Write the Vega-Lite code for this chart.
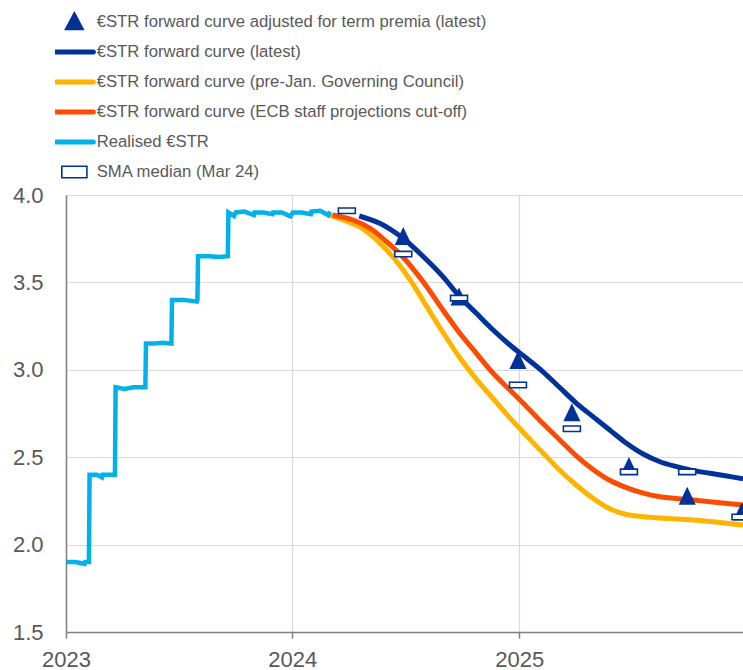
{
  "$schema": "https://vega.github.io/schema/vega-lite/v6.json",
  "width": 677,
  "height": 437,
  "autosize": {"type": "none"},
  "padding": {"left": 66, "top": 195, "right": 0, "bottom": 38},
  "background": "white",
  "config": {"view": {"stroke": null}, "font": "Liberation Sans"},
  "datasets": {
    "lines": [
      {"series": "€STR forward curve (pre-Jan. Governing Council)", "date": "2024-02-27", "value": 3.886},
      {"series": "€STR forward curve (pre-Jan. Governing Council)", "date": "2024-03-25", "value": 3.855},
      {"series": "€STR forward curve (pre-Jan. Governing Council)", "date": "2024-04-18", "value": 3.819},
      {"series": "€STR forward curve (pre-Jan. Governing Council)", "date": "2024-05-16", "value": 3.743},
      {"series": "€STR forward curve (pre-Jan. Governing Council)", "date": "2024-06-11", "value": 3.647},
      {"series": "€STR forward curve (pre-Jan. Governing Council)", "date": "2024-07-09", "value": 3.514},
      {"series": "€STR forward curve (pre-Jan. Governing Council)", "date": "2024-08-05", "value": 3.361},
      {"series": "€STR forward curve (pre-Jan. Governing Council)", "date": "2024-09-01", "value": 3.209},
      {"series": "€STR forward curve (pre-Jan. Governing Council)", "date": "2024-09-27", "value": 3.07},
      {"series": "€STR forward curve (pre-Jan. Governing Council)", "date": "2024-10-24", "value": 2.945},
      {"series": "€STR forward curve (pre-Jan. Governing Council)", "date": "2024-11-20", "value": 2.835},
      {"series": "€STR forward curve (pre-Jan. Governing Council)", "date": "2024-12-17", "value": 2.725},
      {"series": "€STR forward curve (pre-Jan. Governing Council)", "date": "2025-01-13", "value": 2.622},
      {"series": "€STR forward curve (pre-Jan. Governing Council)", "date": "2025-02-09", "value": 2.522},
      {"series": "€STR forward curve (pre-Jan. Governing Council)", "date": "2025-03-07", "value": 2.427},
      {"series": "€STR forward curve (pre-Jan. Governing Council)", "date": "2025-04-03", "value": 2.341},
      {"series": "€STR forward curve (pre-Jan. Governing Council)", "date": "2025-04-30", "value": 2.265},
      {"series": "€STR forward curve (pre-Jan. Governing Council)", "date": "2025-05-27", "value": 2.205},
      {"series": "€STR forward curve (pre-Jan. Governing Council)", "date": "2025-06-23", "value": 2.172},
      {"series": "€STR forward curve (pre-Jan. Governing Council)", "date": "2025-08-16", "value": 2.152},
      {"series": "€STR forward curve (pre-Jan. Governing Council)", "date": "2025-10-09", "value": 2.141},
      {"series": "€STR forward curve (pre-Jan. Governing Council)", "date": "2025-12-28", "value": 2.112},

      {"series": "€STR forward curve (ECB staff projections cut-off)", "date": "2024-03-06", "value": 3.886},
      {"series": "€STR forward curve (ECB staff projections cut-off)", "date": "2024-04-08", "value": 3.857},
      {"series": "€STR forward curve (ECB staff projections cut-off)", "date": "2024-05-05", "value": 3.81},
      {"series": "€STR forward curve (ECB staff projections cut-off)", "date": "2024-06-01", "value": 3.733},
      {"series": "€STR forward curve (ECB staff projections cut-off)", "date": "2024-06-27", "value": 3.647},
      {"series": "€STR forward curve (ECB staff projections cut-off)", "date": "2024-07-20", "value": 3.55},
      {"series": "€STR forward curve (ECB staff projections cut-off)", "date": "2024-08-05", "value": 3.475},
      {"series": "€STR forward curve (ECB staff projections cut-off)", "date": "2024-08-31", "value": 3.342},
      {"series": "€STR forward curve (ECB staff projections cut-off)", "date": "2024-09-27", "value": 3.21},
      {"series": "€STR forward curve (ECB staff projections cut-off)", "date": "2024-10-24", "value": 3.094},
      {"series": "€STR forward curve (ECB staff projections cut-off)", "date": "2024-11-20", "value": 2.98},
      {"series": "€STR forward curve (ECB staff projections cut-off)", "date": "2024-12-17", "value": 2.884},
      {"series": "€STR forward curve (ECB staff projections cut-off)", "date": "2025-01-13", "value": 2.789},
      {"series": "€STR forward curve (ECB staff projections cut-off)", "date": "2025-02-08", "value": 2.694},
      {"series": "€STR forward curve (ECB staff projections cut-off)", "date": "2025-03-07", "value": 2.6},
      {"series": "€STR forward curve (ECB staff projections cut-off)", "date": "2025-04-03", "value": 2.508},
      {"series": "€STR forward curve (ECB staff projections cut-off)", "date": "2025-04-30", "value": 2.43},
      {"series": "€STR forward curve (ECB staff projections cut-off)", "date": "2025-05-27", "value": 2.368},
      {"series": "€STR forward curve (ECB staff projections cut-off)", "date": "2025-06-23", "value": 2.326},
      {"series": "€STR forward curve (ECB staff projections cut-off)", "date": "2025-07-20", "value": 2.294},
      {"series": "€STR forward curve (ECB staff projections cut-off)", "date": "2025-08-16", "value": 2.274},
      {"series": "€STR forward curve (ECB staff projections cut-off)", "date": "2025-10-09", "value": 2.255},
      {"series": "€STR forward curve (ECB staff projections cut-off)", "date": "2025-12-28", "value": 2.227},

      {"series": "€STR forward curve (latest)", "date": "2024-04-18", "value": 3.88},
      {"series": "€STR forward curve (latest)", "date": "2024-05-21", "value": 3.838},
      {"series": "€STR forward curve (latest)", "date": "2024-06-27", "value": 3.754},
      {"series": "€STR forward curve (latest)", "date": "2024-08-05", "value": 3.628},
      {"series": "€STR forward curve (latest)", "date": "2024-08-31", "value": 3.533},
      {"series": "€STR forward curve (latest)", "date": "2024-09-27", "value": 3.418},
      {"series": "€STR forward curve (latest)", "date": "2024-10-24", "value": 3.323},
      {"series": "€STR forward curve (latest)", "date": "2024-11-20", "value": 3.228},
      {"series": "€STR forward curve (latest)", "date": "2024-12-17", "value": 3.142},
      {"series": "€STR forward curve (latest)", "date": "2025-01-13", "value": 3.066},
      {"series": "€STR forward curve (latest)", "date": "2025-02-08", "value": 2.99},
      {"series": "€STR forward curve (latest)", "date": "2025-03-07", "value": 2.9},
      {"series": "€STR forward curve (latest)", "date": "2025-04-03", "value": 2.81},
      {"series": "€STR forward curve (latest)", "date": "2025-04-30", "value": 2.732},
      {"series": "€STR forward curve (latest)", "date": "2025-05-27", "value": 2.656},
      {"series": "€STR forward curve (latest)", "date": "2025-06-23", "value": 2.58},
      {"series": "€STR forward curve (latest)", "date": "2025-07-20", "value": 2.518},
      {"series": "€STR forward curve (latest)", "date": "2025-08-16", "value": 2.474},
      {"series": "€STR forward curve (latest)", "date": "2025-09-12", "value": 2.446},
      {"series": "€STR forward curve (latest)", "date": "2025-10-09", "value": 2.423},
      {"series": "€STR forward curve (latest)", "date": "2025-11-05", "value": 2.408},
      {"series": "€STR forward curve (latest)", "date": "2025-12-02", "value": 2.392},
      {"series": "€STR forward curve (latest)", "date": "2025-12-28", "value": 2.377},

      {"series": "Realised €STR", "date": "2023-01-02", "value": 1.90},
      {"series": "Realised €STR", "date": "2023-01-16", "value": 1.90},
      {"series": "Realised €STR", "date": "2023-01-31", "value": 1.89},
      {"series": "Realised €STR", "date": "2023-02-01", "value": 1.90},
      {"series": "Realised €STR", "date": "2023-02-07", "value": 1.90},
      {"series": "Realised €STR", "date": "2023-02-08", "value": 2.40},
      {"series": "Realised €STR", "date": "2023-02-20", "value": 2.40},
      {"series": "Realised €STR", "date": "2023-02-28", "value": 2.385},
      {"series": "Realised €STR", "date": "2023-03-01", "value": 2.40},
      {"series": "Realised €STR", "date": "2023-03-21", "value": 2.40},
      {"series": "Realised €STR", "date": "2023-03-22", "value": 2.90},
      {"series": "Realised €STR", "date": "2023-04-05", "value": 2.89},
      {"series": "Realised €STR", "date": "2023-04-20", "value": 2.90},
      {"series": "Realised €STR", "date": "2023-05-09", "value": 2.90},
      {"series": "Realised €STR", "date": "2023-05-10", "value": 3.15},
      {"series": "Realised €STR", "date": "2023-05-25", "value": 3.15},
      {"series": "Realised €STR", "date": "2023-06-05", "value": 3.155},
      {"series": "Realised €STR", "date": "2023-06-20", "value": 3.15},
      {"series": "Realised €STR", "date": "2023-06-21", "value": 3.40},
      {"series": "Realised €STR", "date": "2023-07-10", "value": 3.40},
      {"series": "Realised €STR", "date": "2023-07-31", "value": 3.39},
      {"series": "Realised €STR", "date": "2023-08-01", "value": 3.40},
      {"series": "Realised €STR", "date": "2023-08-02", "value": 3.65},
      {"series": "Realised €STR", "date": "2023-08-20", "value": 3.65},
      {"series": "Realised €STR", "date": "2023-09-05", "value": 3.645},
      {"series": "Realised €STR", "date": "2023-09-19", "value": 3.65},
      {"series": "Realised €STR", "date": "2023-09-20", "value": 3.90},
      {"series": "Realised €STR", "date": "2023-09-29", "value": 3.88},
      {"series": "Realised €STR", "date": "2023-10-02", "value": 3.90},
      {"series": "Realised €STR", "date": "2023-10-16", "value": 3.905},
      {"series": "Realised €STR", "date": "2023-10-31", "value": 3.885},
      {"series": "Realised €STR", "date": "2023-11-01", "value": 3.90},
      {"series": "Realised €STR", "date": "2023-11-15", "value": 3.90},
      {"series": "Realised €STR", "date": "2023-11-30", "value": 3.89},
      {"series": "Realised €STR", "date": "2023-12-01", "value": 3.90},
      {"series": "Realised €STR", "date": "2023-12-15", "value": 3.90},
      {"series": "Realised €STR", "date": "2023-12-29", "value": 3.878},
      {"series": "Realised €STR", "date": "2024-01-02", "value": 3.90},
      {"series": "Realised €STR", "date": "2024-01-16", "value": 3.90},
      {"series": "Realised €STR", "date": "2024-01-31", "value": 3.89},
      {"series": "Realised €STR", "date": "2024-02-01", "value": 3.905},
      {"series": "Realised €STR", "date": "2024-02-15", "value": 3.91},
      {"series": "Realised €STR", "date": "2024-02-28", "value": 3.885},
      {"series": "Realised €STR", "date": "2024-03-02", "value": 3.905}
    ],
    "triangles": [
      {"date": "2024-06-28", "value": 3.765},
      {"date": "2024-09-26", "value": 3.42},
      {"date": "2024-12-30", "value": 3.056},
      {"date": "2025-03-27", "value": 2.757},
      {"date": "2025-06-27", "value": 2.45},
      {"date": "2025-09-29", "value": 2.28},
      {"date": "2025-12-26", "value": 2.19}
    ],
    "sma": [
      {"date": "2024-03-29", "value": 3.91},
      {"date": "2024-06-28", "value": 3.662},
      {"date": "2024-09-26", "value": 3.41},
      {"date": "2024-12-30", "value": 2.913},
      {"date": "2025-03-27", "value": 2.663},
      {"date": "2025-06-27", "value": 2.416},
      {"date": "2025-09-29", "value": 2.416},
      {"date": "2025-12-24", "value": 2.158}
    ]
  },
  "encoding": {
    "x": {
      "field": "date", "type": "temporal",
      "scale": {"domain": [{"year": 2023, "month": 1, "date": 1}, {"year": 2025, "month": 12, "date": 28}]},
      "axis": {
        "title": null, "format": "%Y", "labelFlush": false,
        "values": [{"year": 2023, "month": 1, "date": 1}, {"year": 2024, "month": 1, "date": 1}, {"year": 2025, "month": 1, "date": 1}],
        "labelFont": "Liberation Sans", "labelFontSize": 22, "labelColor": "#595959",
        "labelPadding": 11, "tickSize": 6, "tickColor": "#808080", "tickWidth": 1.5,
        "domainColor": "#808080", "domainWidth": 1.5,
        "grid": true, "gridColor": "#d9d9d9", "gridWidth": 1.2
      }
    },
    "y": {
      "field": "value", "type": "quantitative",
      "scale": {"domain": [1.5, 4.0], "nice": false, "zero": false},
      "axis": {
        "title": null, "format": ".1f", "values": [1.5, 2.0, 2.5, 3.0, 3.5, 4.0], "labelFlush": false,
        "labelFont": "Liberation Sans", "labelFontSize": 22, "labelColor": "#595959",
        "ticks": false, "labelPadding": 23,
        "domainColor": "#808080", "domainWidth": 1.5,
        "grid": true, "gridColor": "#d9d9d9", "gridWidth": 1.2
      }
    }
  },
  "layer": [
    {
      "data": {"name": "lines"},
      "transform": [{"filter": "datum.series === '€STR forward curve (pre-Jan. Governing Council)'"}],
      "mark": {"type": "line", "interpolate": "catmull-rom", "strokeWidth": 5, "clip": true},
      "encoding": {
        "color": {
          "field": "series", "type": "nominal",
          "scale": {
            "domain": ["€STR forward curve adjusted for term premia (latest)", "€STR forward curve (latest)", "€STR forward curve (pre-Jan. Governing Council)", "€STR forward curve (ECB staff projections cut-off)", "Realised €STR", "SMA median (Mar 24)"],
            "range": ["#003299", "#003299", "#FFB400", "#FF4B00", "#00B1EA", "#003299"]
          },
          "legend": {
            "orient": "none", "legendX": -11, "legendY": -188, "direction": "vertical",
            "title": null, "padding": 0, "rowPadding": 0, "clipHeight": 30,
            "symbolSize": 1444, "symbolOffset": 11, "labelOffset": 14, "symbolType": "stroke",
            "labelFont": "Liberation Sans", "labelFontSize": 16.7, "labelColor": "#595959", "labelLimit": 700,
            "encode": {
              "symbols": {
                "update": {
                  "shape": {"signal": "datum.value === '€STR forward curve adjusted for term premia (latest)' ? 'M0,-0.3L0.32,0.3L-0.32,0.3Z' : (datum.value === 'SMA median (Mar 24)' ? 'M-0.66,-0.3H0.66V0.3H-0.66Z' : 'M-1,0H1')"},
                  "fill": {"signal": "datum.value === '€STR forward curve adjusted for term premia (latest)' ? '#003299' : (datum.value === 'SMA median (Mar 24)' ? '#ffffff' : 'transparent')"},
                  "stroke": {"signal": "datum.value === '€STR forward curve adjusted for term premia (latest)' ? 'transparent' : (datum.value === '€STR forward curve (pre-Jan. Governing Council)' ? '#FFB400' : (datum.value === '€STR forward curve (ECB staff projections cut-off)' ? '#FF4B00' : (datum.value === 'Realised €STR' ? '#00B1EA' : '#003299')))"},
                  "strokeWidth": {"signal": "datum.value === 'SMA median (Mar 24)' ? 1.6 : 5"},
                  "strokeCap": {"value": "round"},
                  "opacity": {"value": 1}
                }
              }
            }
          }
        }
      }
    },
    {
      "data": {"name": "lines"},
      "transform": [{"filter": "datum.series === '€STR forward curve (ECB staff projections cut-off)'"}],
      "mark": {"type": "line", "interpolate": "catmull-rom", "strokeWidth": 5, "clip": true},
      "encoding": {
        "color": {
          "field": "series", "type": "nominal",
          "scale": {
            "domain": ["€STR forward curve adjusted for term premia (latest)", "€STR forward curve (latest)", "€STR forward curve (pre-Jan. Governing Council)", "€STR forward curve (ECB staff projections cut-off)", "Realised €STR", "SMA median (Mar 24)"],
            "range": ["#003299", "#003299", "#FFB400", "#FF4B00", "#00B1EA", "#003299"]
          },
          "legend": null
        }
      }
    },
    {
      "data": {"name": "lines"},
      "transform": [{"filter": "datum.series === '€STR forward curve (latest)'"}],
      "mark": {"type": "line", "interpolate": "catmull-rom", "strokeWidth": 5, "clip": true},
      "encoding": {
        "color": {
          "field": "series", "type": "nominal",
          "scale": {
            "domain": ["€STR forward curve adjusted for term premia (latest)", "€STR forward curve (latest)", "€STR forward curve (pre-Jan. Governing Council)", "€STR forward curve (ECB staff projections cut-off)", "Realised €STR", "SMA median (Mar 24)"],
            "range": ["#003299", "#003299", "#FFB400", "#FF4B00", "#00B1EA", "#003299"]
          },
          "legend": null
        }
      }
    },
    {
      "data": {"name": "lines"},
      "transform": [{"filter": "datum.series === 'Realised €STR'"}],
      "mark": {"type": "line", "interpolate": "linear", "strokeWidth": 4.5, "clip": true},
      "encoding": {
        "color": {
          "field": "series", "type": "nominal",
          "scale": {
            "domain": ["€STR forward curve adjusted for term premia (latest)", "€STR forward curve (latest)", "€STR forward curve (pre-Jan. Governing Council)", "€STR forward curve (ECB staff projections cut-off)", "Realised €STR", "SMA median (Mar 24)"],
            "range": ["#003299", "#003299", "#FFB400", "#FF4B00", "#00B1EA", "#003299"]
          },
          "legend": null
        }
      }
    },
    {
      "data": {"name": "triangles"},
      "mark": {"type": "point", "shape": "M0,-1L0.95,1L-0.95,1Z", "size": 324, "filled": true, "fill": "#003299", "stroke": "#003299", "strokeWidth": 0, "opacity": 1, "clip": true}
    },
    {
      "data": {"name": "sma"},
      "mark": {"type": "point", "shape": "M-1,-0.32H1V0.32H-1Z", "size": 289, "filled": false, "fill": "#ffffff", "fillOpacity": 1, "stroke": "#003299", "strokeWidth": 1.6, "opacity": 1, "clip": true}
    }
  ]
}
